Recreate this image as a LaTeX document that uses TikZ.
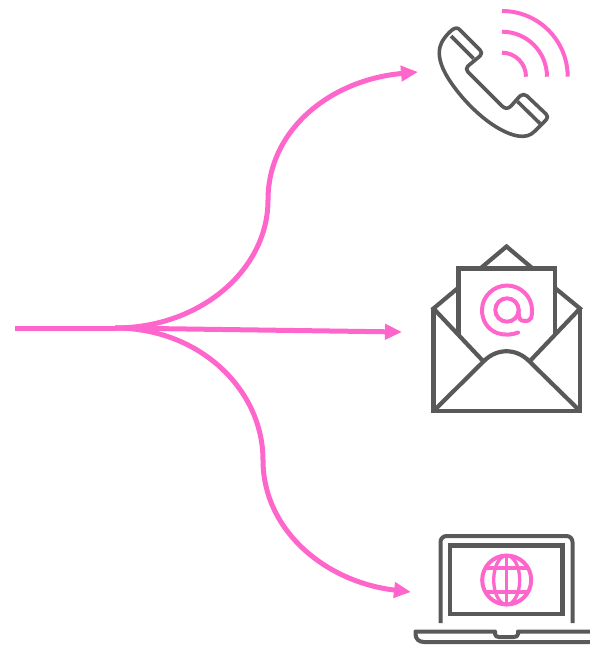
\documentclass[tikz,border=0pt]{standalone}
\usetikzlibrary{arrows.meta}
\definecolor{pinkc}{HTML}{FF66CC}
\definecolor{grayc}{HTML}{595959}
\tikzset{
  conn/.style={pinkc,line width=5pt,-{Triangle[length=17pt,width=15pt]}},
  stem/.style={pinkc,line width=5pt},
  ink/.style={grayc,line width=3.6pt,line join=round},
  inkbox/.style={grayc,line width=4.2pt,line join=miter},
  accent/.style={pinkc,line width=4pt},
  accentthin/.style={pinkc,line width=3.3pt},
}
\begin{document}
\begin{tikzpicture}[x=1pt,y=-1pt]
\useasboundingbox (0,0) rectangle (589,645);
% connectors
\coordinate (start) at (15,328);
\coordinate (hub) at (115,328);
\coordinate (upmid) at (268,200);
\coordinate (phoneend) at (418,72);
\coordinate (mailend) at (402,332);
\coordinate (lowmid) at (263,460);
\coordinate (webend) at (411,592);
\draw[stem] (start) -- (hub);
\draw[conn] (hub) .. controls (200,328) and (268,270) .. (upmid) .. controls (268,130) and (330,80) .. (phoneend);
\draw[conn] (hub) -- (mailend);
\draw[conn] (hub) .. controls (200,328) and (263,390) .. (lowmid) .. controls (263,530) and (325,582) .. (webend);
% phone
\draw[ink] (452,30) .. controls (455,27.5) and (458,27.5) .. (460,30) -- (480,50)
  .. controls (482,52) and (482,54) .. (480,56) -- (468,66) .. controls (466,68) and (466,70) .. (468,72)
  -- (502,106) .. controls (505,109) and (508,109) .. (511,106) -- (520,96)
  .. controls (522,94) and (525,94) .. (527,96) -- (546,114) .. controls (548,116) and (548,118) .. (546,120)
  -- (535,131) .. controls (530,136) and (525,137) .. (518,136)
  .. controls (495,132) and (465,105) .. (448,78)
  .. controls (440,65) and (438,55) .. (440,47) .. controls (441,42) and (446,35) .. (452,30) -- cycle;
\draw[ink] (451,36) -- (473.5,58.5);
\draw[ink] (517.5,101.5) -- (540,123.5);
\draw[accent] (502,52.7) arc[start angle=270,end angle=360,radius=24];
\draw[accent] (502,31.7) arc[start angle=270,end angle=360,radius=45];
\draw[accent] (502,11) arc[start angle=270,end angle=360,radius=65.7];
% envelope
\draw[inkbox] (433.5,308.5) -- (433.5,411) -- (580,411) -- (580,308.5);
\draw[inkbox] (458,288) -- (433.5,308.5) -- (484,362);
\draw[inkbox] (555,288) -- (580,308.5) -- (529,362);
\draw[inkbox] (433.5,411) -- (484,361) .. controls (497,348) and (516,348) .. (529,361) -- (580,411);
\draw[inkbox] (458.5,335) -- (458.5,268.5) -- (555,268.5) -- (555,334);
\draw[inkbox] (481.5,267.5) -- (506.5,246.5) -- (531.5,267.5);
\draw[accent,line cap=round] (518,332.5) .. controls (512,335) and (504,335.5) .. (497,333)
  .. controls (487,329) and (482,320) .. (482,310)
  .. controls (482,296) and (494,285.5) .. (507,285.5)
  .. controls (520,285.5) and (532,296) .. (532,310)
  .. controls (532,316) and (532,321) .. (525,321)
  .. controls (520,321) and (518.7,319) .. (518.7,312) -- (518.7,310);
\draw[accent] (507,310) circle[radius=11.7];
% laptop
\draw[ink,line width=4pt] (440.5,623) -- (440.5,542) arc[start angle=180,end angle=270,radius=6] -- (566.5,536) arc[start angle=270,end angle=360,radius=6] -- (572.5,623);
\draw[inkbox] (450,545.5) rectangle (562.5,614);
\draw[ink,line width=4pt] (590,631.5) -- (518,631.5) -- (518,634) .. controls (518,636) and (516,637) .. (514,637) -- (499,637)
  .. controls (497,637) and (495,636) .. (495,634) -- (495,631.5) -- (415.5,631.5) -- (415.5,634)
  .. controls (415.5,639) and (419,642) .. (424,642) -- (590,642);
\draw[accent] (506.7,580) circle[radius=24.5];
\draw[accentthin] (506.7,580) ellipse[x radius=13,y radius=24.5];
\draw[accentthin] (506.7,555.5) -- (506.7,604.5);
\draw[accentthin] (485.5,568) -- (528,568);
\draw[accentthin] (485.5,592) -- (528,592);
\end{tikzpicture}
\end{document}
